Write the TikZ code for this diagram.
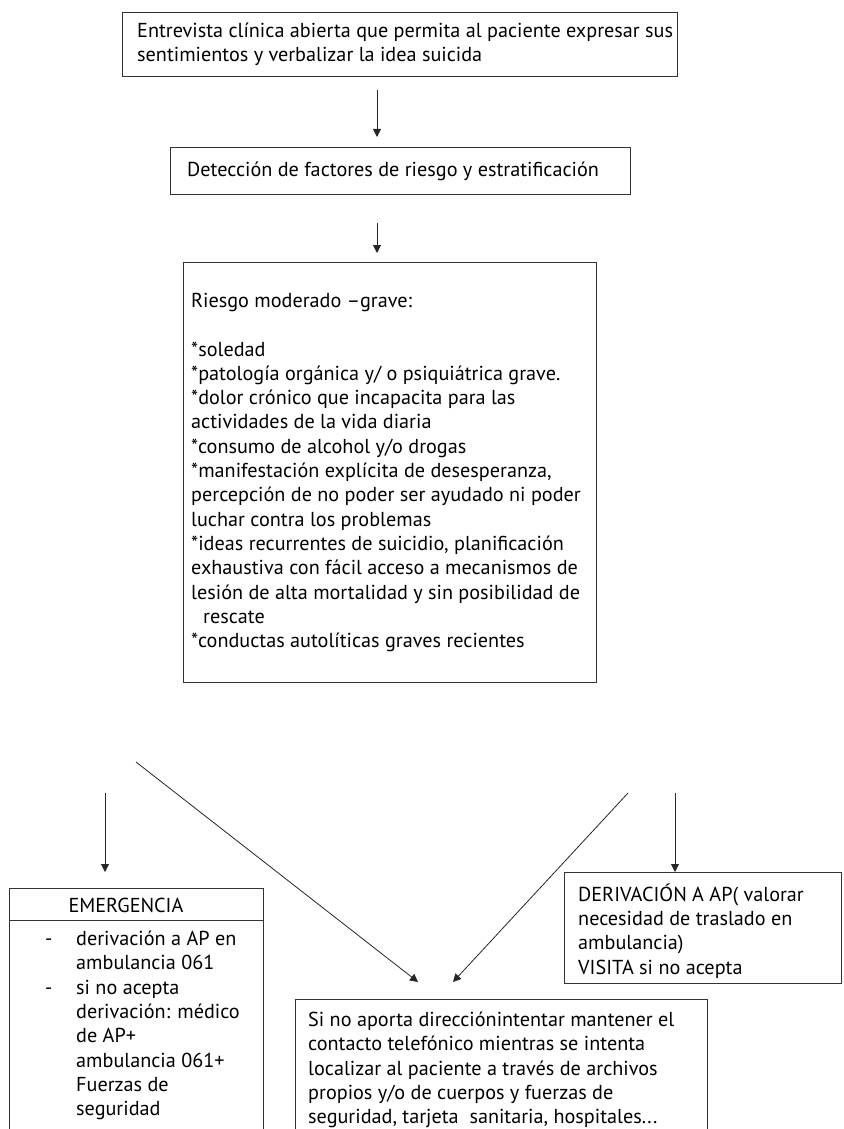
\documentclass[tikz,border=0pt]{standalone}
\usepackage{fontspec}
\setmainfont{PT Sans}
\usetikzlibrary{arrows.meta}
\newcommand\myfs{\fontsize{20.2}{24.3}\selectfont}
\begin{document}
\begin{tikzpicture}[x=1pt,y=-1pt,
  boxs/.style={draw=black!80,line width=1pt,rectangle,anchor=north west,inner sep=0pt},
  txt/.style={inner sep=0pt,align=left,anchor=west,font=\myfs,text=black},
  arr/.style={-{Triangle[length=8pt,width=8pt]},line width=0.9pt,draw=black!85}]
\useasboundingbox (0,0) rectangle (843,1129);
\clip (0,0) rectangle (843,1129);
\fill[white] (0,0) rectangle (843,1129);

% top chain
\node[boxs,minimum width=555pt,minimum height=64pt] (b1) at (122,12) {};
\node[txt] (t1) at (137,44) {Entrevista clínica abierta que permita al paciente expresar sus\\sentimientos y verbalizar la idea suicida};

\node[boxs,minimum width=460pt,minimum height=47pt] (b2) at (170,147) {};
\node[txt] (t2) at (187,171.7) {Detección de factores de riesgo y estratificación};

\node[boxs,minimum width=413pt,minimum height=420pt] (b3) at (183,262) {};
\node[txt] (t3) at (191,472.5) {Riesgo moderado –grave:\\[24.3pt]
*soledad\\
*patología orgánica y/ o psiquiátrica grave.\\
*dolor crónico que incapacita para las\\
actividades de la vida diaria\\
*consumo de alcohol y/o drogas\\
*manifestación explícita de desesperanza,\\
percepción de no poder ser ayudado ni poder\\
luchar contra los problemas\\
*ideas recurrentes de suicidio, planificación\\
exhaustiva con fácil acceso a mecanismos de\\
lesión de alta mortalidad y sin posibilidad de\\
\hspace*{12pt}rescate\\
*conductas autolíticas graves recientes};

\coordinate (a1s) at (377,90);
\coordinate (a1e) at (377,137);
\coordinate (a2s) at (377,223);
\coordinate (a2e) at (377,253);
\draw[arr] (a1s) -- (a1e);
\draw[arr] (a2s) -- (a2e);

% bottom boxes
\node[boxs,minimum width=254pt,minimum height=260pt] (em) at (9,888) {};
\draw[draw=black!80,line width=1pt] ([yshift=-32pt]em.north west) -- ([yshift=-32pt]em.north east);
\node[font=\myfs,text=black,inner sep=0pt] (emh) at (126,905) {EMERGENCIA};
\node[txt] (eml) at (45,1025.5) {\makebox[31pt][l]{-}derivación a AP en\\
\hspace*{31pt}ambulancia 061\\
\makebox[31pt][l]{-}si no acepta\\
\hspace*{31pt}derivación: médico\\
\hspace*{31pt}de AP+\\
\hspace*{31pt}ambulancia 061+\\
\hspace*{31pt}Fuerzas de\\
\hspace*{31pt}seguridad};

\node[boxs,minimum width=277pt,minimum height=111pt] (dv) at (564,872) {};
\node[txt] (dvt) at (578,931) {DERIVACIÓN A AP( valorar\\
necesidad de traslado en\\
ambulancia)\\
VISITA si no acepta};

\node[boxs,minimum width=412pt,minimum height=150pt] (sb) at (295,999) {};
\node[txt] (sbt) at (308,1070) {Si no aporta direcciónintentar mantener el\\
contacto telefónico mientras se intenta\\
localizar al paciente a través de archivos\\
propios y/o de cuerpos y fuerzas de\\
seguridad, tarjeta\ \ sanitaria, hospitales...};

% bottom connectors
\coordinate (l1s) at (105,793);
\coordinate (l1e) at (105,872);
\coordinate (d1s) at (136,762);
\coordinate (d1e) at (418,982);
\coordinate (d2s) at (628,793);
\coordinate (d2e) at (453,982);
\coordinate (r1s) at (675,793);
\draw[arr] (l1s) -- (l1e);
\draw[arr,line width=0.8pt] (d1s) -- (d1e);
\draw[arr,line width=0.8pt] (d2s) -- (d2e);
\draw[arr] (r1s) -- (dv.north -| r1s);
\end{tikzpicture}
\end{document}
